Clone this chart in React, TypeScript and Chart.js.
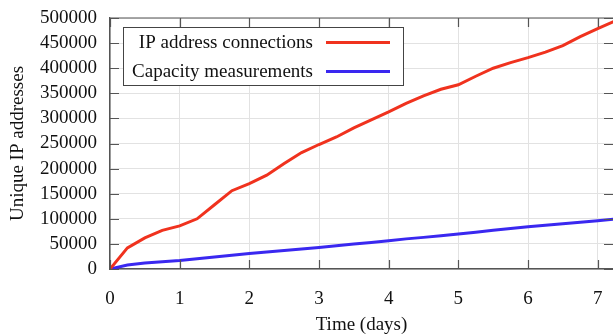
import React, { useEffect, useRef } from "react";
import { Chart, registerables } from "chart.js";

Chart.register(...registerables);

// ---- data ----
const days = [
  0, 0.25, 0.5, 0.75, 1, 1.25, 1.5, 1.75, 2, 2.25, 2.5, 2.75, 3, 3.25, 3.5,
  3.75, 4, 4.25, 4.5, 4.75, 5, 5.25, 5.5, 5.75, 6, 6.25, 6.5, 6.75, 7, 7.25,
];
const ipConnections = [
  0, 42000, 62000, 77000, 86000, 100000, 128000, 156000, 170000, 187000,
  210000, 232000, 248000, 263000, 281000, 297000, 313000, 330000, 345000,
  358000, 367000, 384000, 400000, 411000, 421000, 432000, 445000, 463000,
  479000, 494000,
];
const capacityMeasurements = [
  0, 8000, 12000, 14500, 17000, 20500, 24000, 27500, 31000, 34000, 37000,
  40000, 43000, 46500, 50000, 53000, 56500, 60000, 63000, 66000, 69500, 73000,
  77000, 80500, 84000, 87000, 90000, 93000, 96000, 99500,
];
const seriesLabels = ["IP address connections", "Capacity measurements"];
const seriesColors = ["#f0321e", "#3a28f0"];
const xAxisTitle = "Time (days)";
const yAxisTitle = "Unique IP addresses";
const xMin = 0;
const xMax = 7.22;
const xStep = 1;
const yMin = 0;
const yMax = 500000;
const yStep = 50000;

const FONT = "'Liberation Serif', 'DejaVu Serif', serif";

const framePlugin = {
  id: "frameAndLegend",
  afterDraw(chart: any) {
    const { ctx, chartArea, scales } = chart;
    const { left, right, top, bottom } = chartArea;
    const xs = scales.x;
    const ys = scales.y;
    ctx.save();
    // top border
    ctx.strokeStyle = "#8a8a8a";
    ctx.lineWidth = 1.5;
    ctx.beginPath();
    ctx.moveTo(left, top);
    ctx.lineTo(right, top);
    ctx.stroke();
    // inward ticks
    ctx.strokeStyle = "#555";
    ctx.lineWidth = 1.2;
    const tl = 9;
    xs.ticks.forEach((t: any) => {
      const px = Math.round(xs.getPixelForValue(t.value)) + 0.5;
      ctx.beginPath();
      ctx.moveTo(px, bottom);
      ctx.lineTo(px, bottom - tl);
      ctx.moveTo(px, top);
      ctx.lineTo(px, top + tl);
      ctx.stroke();
    });
    ys.ticks.forEach((t: any) => {
      const py = Math.round(ys.getPixelForValue(t.value)) + 0.5;
      ctx.beginPath();
      ctx.moveTo(left, py);
      ctx.lineTo(left + tl, py);
      ctx.moveTo(right, py);
      ctx.lineTo(right - tl, py);
      ctx.stroke();
    });
    // legend
    const bx = 123.5;
    const by = 27.5;
    const bw = 280;
    const bh = 58;
    ctx.fillStyle = "#fff";
    ctx.fillRect(bx, by, bw, bh);
    ctx.strokeStyle = "#444";
    ctx.lineWidth = 1;
    ctx.strokeRect(bx, by, bw, bh);
    ctx.font = `19px ${FONT}`;
    ctx.fillStyle = "#111";
    ctx.textAlign = "right";
    ctx.textBaseline = "middle";
    const rows = [42.5, 71.5];
    seriesLabels.forEach((lab, i) => {
      ctx.fillText(lab, 313, rows[i] + 1);
      ctx.strokeStyle = seriesColors[i];
      ctx.lineWidth = 3;
      ctx.beginPath();
      ctx.moveTo(326, rows[i]);
      ctx.lineTo(390, rows[i]);
      ctx.stroke();
    });
    ctx.restore();
  },
};

export default function App() {
  const ref = useRef<HTMLCanvasElement | null>(null);
  useEffect(() => {
    if (!ref.current) return;
    const series = [ipConnections, capacityMeasurements];
    const chart = new Chart(ref.current, {
      type: "line",
      data: {
        datasets: series.map((vals, i) => ({
          label: seriesLabels[i],
          data: days.map((d, j) => ({ x: d, y: vals[j] })),
          borderColor: seriesColors[i],
          backgroundColor: seriesColors[i],
          borderWidth: 3,
          pointRadius: 0,
          tension: 0,
          fill: false,
        })),
      },
      options: {
        responsive: false,
        animation: false,
        layout: { padding: { top: 18, right: 0, left: 0, bottom: 0 } },
        plugins: {
          legend: { display: false },
          tooltip: { enabled: false },
        },
        scales: {
          x: {
            type: "linear",
            min: xMin,
            max: xMax,
            afterFit: (s: any) => {
              s.height = 66;
              s.paddingLeft = 0;
              s.paddingRight = 0;
            },
            ticks: {
              stepSize: xStep,
              includeBounds: false,
              autoSkip: false,
              padding: 19,
              color: "#111",
              font: { family: FONT, size: 19 },
              maxRotation: 0,
            },
            grid: { color: "#e2e2e2", lineWidth: 1, drawTicks: false },
            border: { display: true, color: "#555", width: 1.5 },
            title: {
              display: true,
              text: xAxisTitle,
              color: "#111",
              font: { family: FONT, size: 19, lineHeight: 1 },
              padding: { top: 0, bottom: 0 },
            },
          },
          y: {
            min: yMin,
            max: yMax,
            afterFit: (s: any) => {
              s.width = 110;
              s.paddingTop = 0;
              s.paddingBottom = 0;
            },
            ticks: {
              stepSize: yStep,
              autoSkip: false,
              padding: 13,
              color: "#111",
              font: { family: FONT, size: 19 },
              callback: (v: any) => String(v),
            },
            grid: { color: "#e2e2e2", lineWidth: 1, drawTicks: false },
            border: { display: true, color: "#555", width: 1.5 },
            title: {
              display: true,
              text: yAxisTitle,
              color: "#111",
              font: { family: FONT, size: 19 },
              padding: { top: 7, bottom: 0 },
            },
          },
        },
      },
      plugins: [framePlugin],
    });
    return () => chart.destroy();
  }, []);
  return (
    <div style={{ position: "fixed", left: 0, top: 0, width: 613, height: 335, background: "#fff" }}>
      <canvas ref={ref} width={613} height={335} style={{ display: "block" }} />
    </div>
  );
}
